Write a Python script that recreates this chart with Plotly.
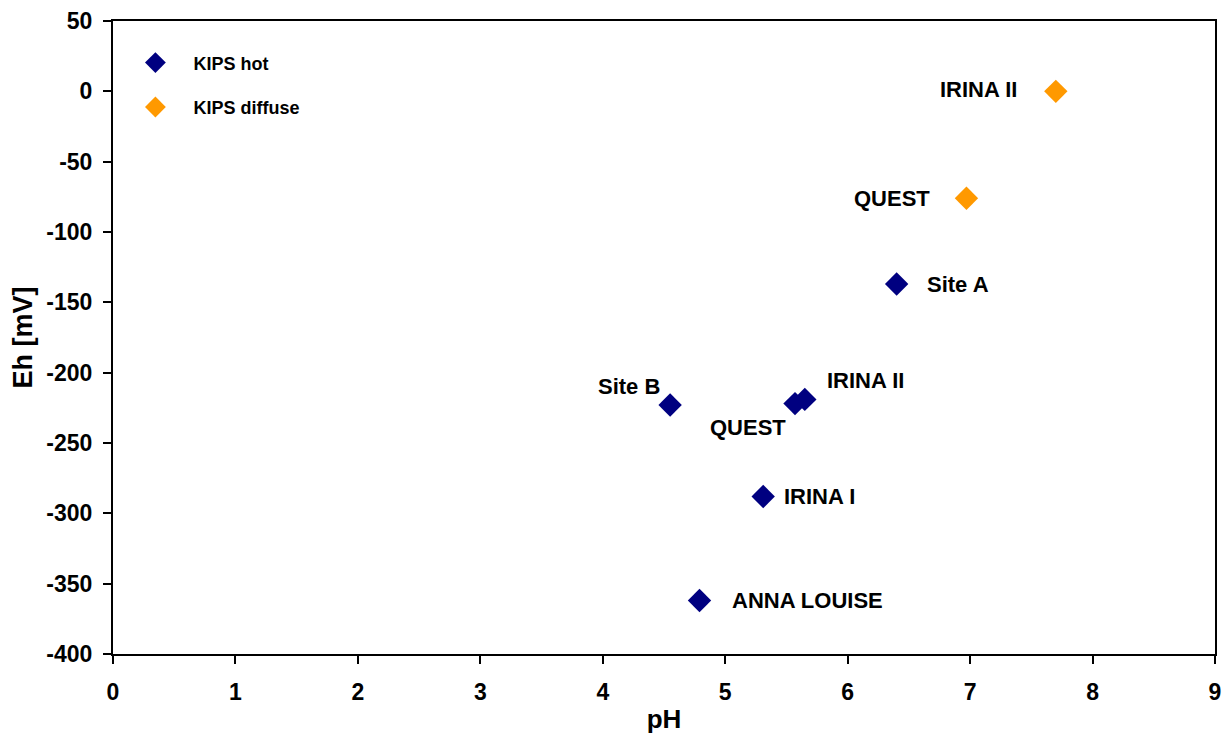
import plotly.graph_objects as go

# Data
hot_names = ["Site A", "Site B", "QUEST", "IRINA II", "IRINA I", "ANNA LOUISE"]
hot_ph = [6.40, 4.55, 5.57, 5.65, 5.31, 4.79]
hot_eh = [-137, -223, -222, -219, -288, -362]

diffuse_names = ["IRINA II", "QUEST"]
diffuse_ph = [7.70, 6.97]
diffuse_eh = [0, -76]

x_ticks = [0, 1, 2, 3, 4, 5, 6, 7, 8, 9]
y_ticks = [50, 0, -50, -100, -150, -200, -250, -300, -350, -400]

# Label offsets (pixels) and anchors
hot_label_style = [
    dict(xanchor="left", xshift=28, yshift=0),
    dict(xanchor="right", xshift=-8, yshift=19),
    dict(xanchor="right", xshift=-7, yshift=-24),
    dict(xanchor="left", xshift=20, yshift=19),
    dict(xanchor="left", xshift=19, yshift=0),
    dict(xanchor="left", xshift=30, yshift=0),
]
diffuse_label_style = [
    dict(xanchor="right", xshift=-37, yshift=2),
    dict(xanchor="right", xshift=-34, yshift=0),
]

FONT = "Liberation Sans, Arial, sans-serif"
NAVY = "#000080"
ORANGE = "#FF9900"

fig = go.Figure()
fig.add_trace(go.Scatter(
    x=hot_ph, y=hot_eh, mode="markers", name="KIPS hot", legendgroup="hot",
    marker=dict(symbol="diamond", size=18, color=NAVY, line=dict(width=0)),
))
fig.add_trace(go.Scatter(
    x=diffuse_ph, y=diffuse_eh, mode="markers", name="KIPS diffuse", legendgroup="diffuse",
    marker=dict(symbol="diamond", size=18, color=ORANGE, line=dict(width=0)),
))

annotations = []
for names, xs, ys, styles in [
    (hot_names, hot_ph, hot_eh, hot_label_style),
    (diffuse_names, diffuse_ph, diffuse_eh, diffuse_label_style),
]:
    for n, xv, yv, st in zip(names, xs, ys, styles):
        annotations.append(dict(
            x=xv, y=yv, xref="x", yref="y", text="<b>%s</b>" % n, showarrow=False,
            xanchor=st["xanchor"], yanchor="middle", xshift=st["xshift"], yshift=st["yshift"],
            font=dict(family=FONT, size=22, color="black"),
        ))

fig.update_layout(
    width=1223, height=745,
    margin=dict(l=113, r=8, t=21, b=91, autoexpand=False),
    paper_bgcolor="white", plot_bgcolor="white",
    font=dict(family=FONT, color="black"),
    showlegend=True,
    legend=dict(
        x=0.004, y=0.963, xanchor="left", yanchor="top",
        font=dict(family=FONT, size=18, color="black", weight="bold"),
        bgcolor="rgba(0,0,0,0)", itemwidth=66,
        tracegroupgap=18, traceorder="grouped",
    ),
    annotations=annotations,
    xaxis=dict(
        range=[0, 9], tickvals=x_ticks, ticktext=[str(v) for v in x_ticks],
        showgrid=False, zeroline=False, automargin=False,
        showline=True, linecolor="black", linewidth=2, mirror=True,
        ticks="outside", ticklen=8, tickwidth=1.5, tickcolor="black",
        tickfont=dict(family=FONT, size=23, color="black", weight="bold"),
        ticklabelstandoff=8,
        title=dict(text="<b>pH</b>", font=dict(family=FONT, size=26, color="black"), standoff=6),
    ),
    yaxis=dict(
        range=[-400, 50], tickvals=y_ticks, ticktext=[str(v) for v in y_ticks],
        showgrid=False, zeroline=False, automargin=False,
        showline=True, linecolor="black", linewidth=2, mirror=True,
        ticks="outside", ticklen=8, tickwidth=1.5, tickcolor="black",
        tickfont=dict(family=FONT, size=23, color="black", weight="bold"),
        ticklabelstandoff=6,
        title=dict(text="<b>Eh [mV]</b>", font=dict(family=FONT, size=27, color="black"), standoff=6),
    ),
)

fig.write_html(
    "out.html",
    config={"displayModeBar": False},
    post_script="document.body.style.margin='0';document.body.style.overflow='hidden';",
)
